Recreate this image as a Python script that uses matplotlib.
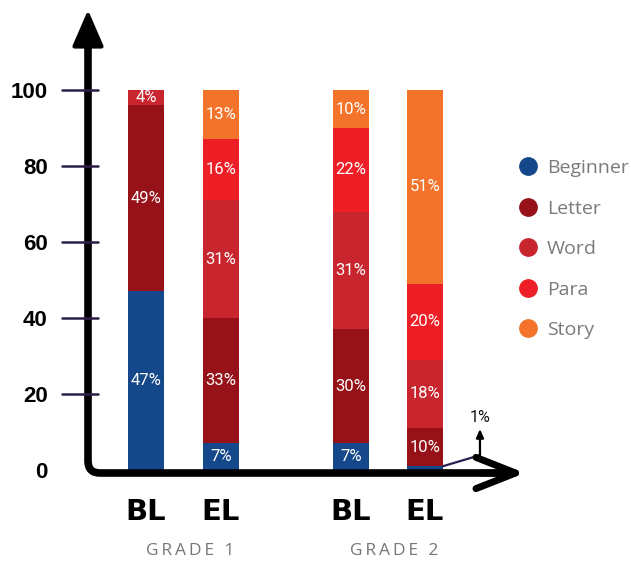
import matplotlib
matplotlib.use("Agg")
import matplotlib.pyplot as plt
from matplotlib.path import Path
from matplotlib.patches import PathPatch
from matplotlib.lines import Line2D
import numpy as np

# ---- data ----
bar_labels = ["BL", "EL", "BL", "EL"]
groups = ["GRADE 1", "GRADE 2"]
series = ["Beginner", "Letter", "Word", "Para", "Story"]
beginner = [47, 7, 7, 1]
letter = [49, 33, 30, 10]
word = [4, 31, 31, 18]
para = [0, 16, 22, 20]
story = [0, 13, 10, 51]
yticks = [0, 20, 40, 60, 80, 100]

colors = ["#15488A", "#961218", "#C9252F", "#EE1E26", "#F3732A"]
values = [beginner, letter, word, para, story]

xpos = np.array([0, 1, 2.73, 3.72])
width = 0.48

fig = plt.figure(figsize=(6.31, 5.62), dpi=100)
W, H = 631, 562
ax = fig.add_axes([88 / W, 1 - 473 / H, 437 / W, 463 / H])
ax.set_xlim((88 - 146) / 75, (525 - 146) / 75)
ax.set_ylim((470 - 473) / 3.8, (470 - 10) / 3.8)

bottom = np.zeros(4)
for name, vals, col in zip(series, values, colors):
    vals = np.array(vals, dtype=float)
    ax.bar(xpos, vals, width, bottom=bottom, color=col, label=name, zorder=2)
    for x, b, v in zip(xpos, bottom, vals):
        if v >= 2:
            ax.text(x, b + v / 2, f"{int(v)}%", ha="center", va="center",
                    color="white", fontsize=12, family="Roboto", zorder=3)
    bottom += vals

# annotation for the 1% segment
x_edge = xpos[3] + width / 2
ax.plot([x_edge, 4.453, 4.453], [beginner[3], 3.9, 3.9], color="#2d1f4f",
        lw=1.6, zorder=3, clip_on=False, solid_capstyle="round")
ax.annotate("", xy=(4.453, 10.8), xytext=(4.453, 3.9),
            arrowprops=dict(arrowstyle="-|>,head_length=0.5,head_width=0.22",
                            color="black", lw=1.6, shrinkA=0, shrinkB=0))
ax.text(4.453, 13.8, f"{beginner[3]}%", ha="center", va="center", fontsize=11.5,
        family="Roboto", color="#111111")

for s in ax.spines.values():
    s.set_visible(False)

# hand-drawn style L axis
rx, ry = 12 / 437, 12 / 463
verts = [(0, 0.93), (0, ry), (0, 0), (rx, 0), (0.95, 0)]
codes = [Path.MOVETO, Path.LINETO, Path.CURVE3, Path.CURVE3, Path.LINETO]
ax.add_patch(PathPatch(Path(verts, codes), fill=False, lw=5.5, color="black",
                       transform=ax.transAxes, clip_on=False, zorder=4,
                       capstyle="round"))
ax.annotate("", xy=(0, 1.0), xytext=(0, 0.9), xycoords="axes fraction",
            arrowprops=dict(arrowstyle="-|>,head_length=1.5,head_width=0.65",
                            mutation_scale=15, color="black", lw=3,
                            shrinkA=0, shrinkB=0), zorder=5)
ax.annotate("", xy=(1.0, 0), xytext=(0.9, 0), xycoords="axes fraction",
            arrowprops=dict(arrowstyle="->,head_length=1.9,head_width=0.75",
                            mutation_scale=15, color="black", lw=5,
                            shrinkA=0, shrinkB=0), zorder=5)

# y tick marks
tr = ax.get_yaxis_transform()
for t in yticks[1:]:
    ax.plot([(62 - 88) / 437, (98 - 88) / 437], [t, t], transform=tr,
            color="#2b1d4a", lw=1.8, clip_on=False, zorder=5,
            solid_capstyle="round")
ax.set_yticks(yticks)
ax.set_yticklabels([str(t) for t in yticks], fontsize=16, fontweight="bold",
                   family="Liberation Sans")
ax.tick_params(axis="y", length=0, pad=29)

ax.set_xticks(xpos)
ax.set_xticklabels(bar_labels, fontsize=21, fontweight="bold",
                   family="DejaVu Sans")
ax.tick_params(axis="x", length=0, pad=18)

# group labels (letter-spaced)
xtr = ax.get_xaxis_transform()
sp = "\u2009"
for gi, g in enumerate(groups):
    cx = (xpos[2 * gi] + xpos[2 * gi + 1]) / 2 + 0.09
    ax.text(cx, (473 - 551) / 463, sp.join(g), transform=xtr,
            ha="center", va="center", fontsize=12.5,
            family=["Open Sans", "DejaVu Sans"], color="#767676")

# legend
handles = [Line2D([], [], marker="o", linestyle="none", markersize=12.5,
                  markerfacecolor=c, markeredgecolor=c) for c in colors]
leg = fig.legend(handles, series, loc="upper left",
                 bbox_to_anchor=(518 / W, 1 - 159 / H), frameon=False,
                 fontsize=14, labelspacing=1.16, handlelength=1.0,
                 handletextpad=0.5, borderpad=0, borderaxespad=0)
for txt in leg.get_texts():
    txt.set_color("#7a7a7a")
    txt.set_family("Open Sans")

fig.savefig("out.png", dpi=100)
